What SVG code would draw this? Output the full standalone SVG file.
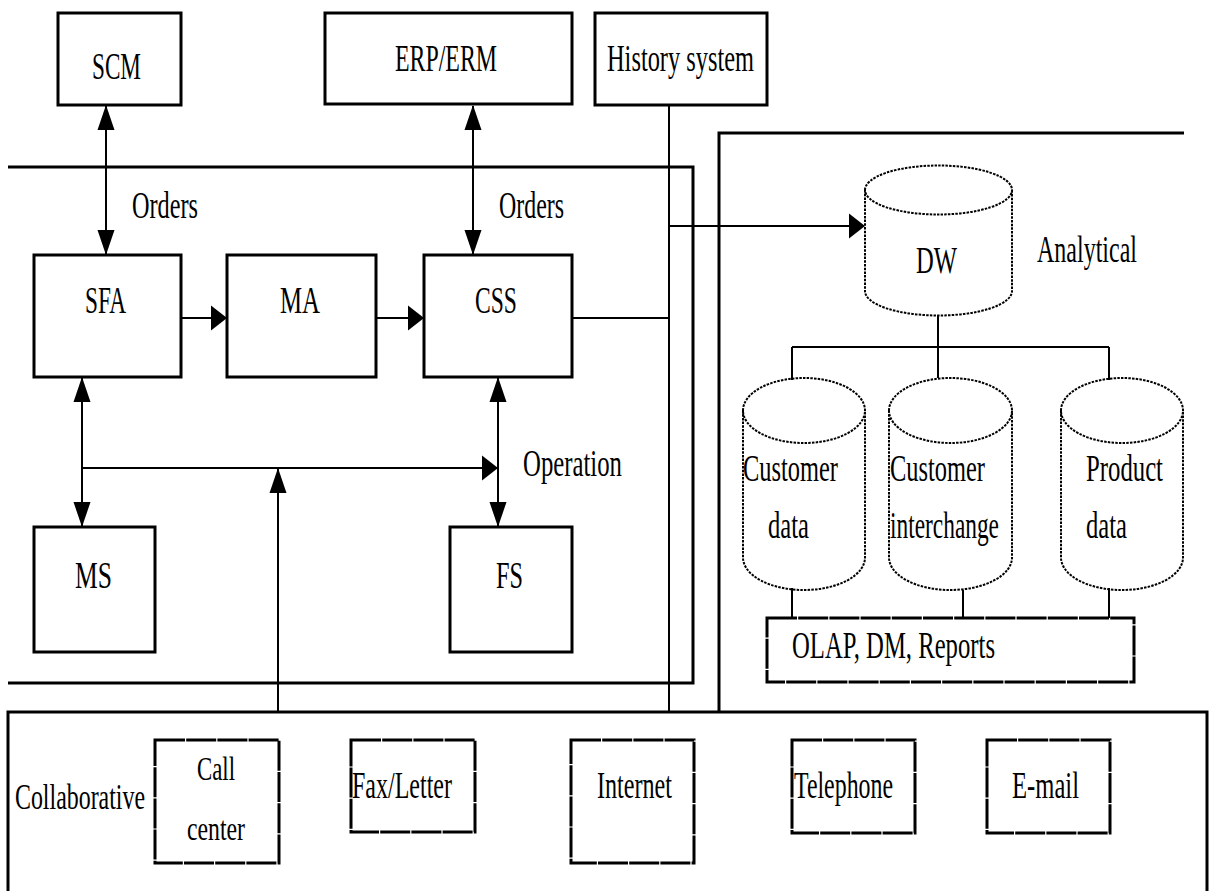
<svg xmlns="http://www.w3.org/2000/svg" width="1213" height="891" viewBox="0 0 1213 891">
<style>
text{font-family:"Liberation Serif","Times New Roman",serif;font-size:37px;fill:#000}
.sm{font-size:34px}
.box{fill:#fff;stroke:#000;stroke-width:3}
.dbox{fill:#fff;stroke:#000;stroke-width:3;stroke-dasharray:30 1.2}
.cyl{fill:none;stroke:#000;stroke-width:2;stroke-dasharray:2.5 1.2}
.reg{fill:none;stroke:#000;stroke-width:3}
.ln{fill:none;stroke:#000;stroke-width:2}
.h{marker-end:url(#ah)}
.v{marker-end:url(#av)}
.vv{marker-start:url(#av);marker-end:url(#av)}
</style>
<defs>
<marker id="ah" markerUnits="userSpaceOnUse" markerWidth="16" markerHeight="26" refX="15" refY="13" orient="auto-start-reverse"><path d="M0,0.5 L16,13 L0,25.5 z" fill="#000"/></marker>
<marker id="av" markerUnits="userSpaceOnUse" markerWidth="25" markerHeight="18" refX="24" refY="9" orient="auto-start-reverse"><path d="M0,0.5 L25,9 L0,17.5 z" fill="#000"/></marker>
</defs>
<rect width="1213" height="891" fill="#fff"/>
<g id="regions">
<path class="reg" d="M8 167 H693 V683 H8"/>
<path class="reg" d="M1184 133 H719 V712"/>
<path class="reg" d="M8 891 V712 H1207 V891"/>
</g>
<g id="connectors">
<line class="ln vv" x1="106" y1="106" x2="106" y2="254"/>
<line class="ln vv" x1="473" y1="106" x2="473" y2="254"/>
<line class="ln" x1="669" y1="105" x2="669" y2="712"/>
<line class="ln h" x1="669" y1="226" x2="864" y2="226"/>
<line class="ln h" x1="181" y1="318" x2="226" y2="318"/>
<line class="ln h" x1="376" y1="318" x2="423" y2="318"/>
<line class="ln" x1="572" y1="318" x2="669" y2="318"/>
<line class="ln vv" x1="82" y1="378" x2="82" y2="526"/>
<line class="ln vv" x1="498" y1="378" x2="498" y2="526"/>
<line class="ln h" x1="82" y1="468" x2="497" y2="468"/>
<line class="ln v" x1="278" y1="712" x2="278" y2="469"/>
<path class="ln" d="M938 315 V347 M792 347 H1109 M792 347 V380 M938 347 V378 M1109 347 V380"/>
<path class="ln" d="M792 588 V618 M963 590 V618 M1109 588 V618"/>
</g>
<g id="scm"><rect class="box" x="58" y="13" width="123" height="92"/><text x="92" y="79" textLength="49" lengthAdjust="spacingAndGlyphs">SCM</text></g>
<g id="erp"><rect class="box" x="325" y="13" width="247" height="91"/><text x="395" y="71" textLength="102" lengthAdjust="spacingAndGlyphs">ERP/ERM</text></g>
<g id="history"><rect class="box" x="595" y="13" width="172" height="92"/><text x="607" y="71" textLength="147" lengthAdjust="spacingAndGlyphs">History system</text></g>
<g id="orders1"><text x="132" y="218" textLength="66" lengthAdjust="spacingAndGlyphs">Orders</text></g>
<g id="orders2"><text x="499" y="218" textLength="65" lengthAdjust="spacingAndGlyphs">Orders</text></g>
<g id="sfa"><rect class="box" x="34" y="255" width="147" height="122"/><text x="85" y="313" textLength="41" lengthAdjust="spacingAndGlyphs">SFA</text></g>
<g id="ma"><rect class="box" x="227" y="255" width="149" height="122"/><text x="280" y="313" textLength="40" lengthAdjust="spacingAndGlyphs">MA</text></g>
<g id="css"><rect class="box" x="424" y="255" width="148" height="122"/><text x="475" y="313" textLength="42" lengthAdjust="spacingAndGlyphs">CSS</text></g>
<g id="operation"><text x="523" y="476" textLength="99" lengthAdjust="spacingAndGlyphs">Operation</text></g>
<g id="ms"><rect class="box" x="34" y="527" width="121" height="125"/><text x="75" y="588" textLength="37" lengthAdjust="spacingAndGlyphs">MS</text></g>
<g id="fs"><rect class="box" x="450" y="527" width="122" height="125"/><text x="496" y="588" textLength="27" lengthAdjust="spacingAndGlyphs">FS</text></g>
<g id="dw"><path class="cyl" d="M865 190 A73.5 24.5 0 0 1 1012 190 A73.5 24.5 0 0 1 865 190 M865 190 V291 A73.5 24.5 0 0 0 1012 291 V190"/><text x="916" y="273" textLength="41" lengthAdjust="spacingAndGlyphs">DW</text></g>
<g id="analytical"><text x="1037" y="262" textLength="100" lengthAdjust="spacingAndGlyphs">Analytical</text></g>
<g id="customer-data"><path class="cyl" d="M743 410.5 A61 32.5 0 0 1 865 410.5 A61 32.5 0 0 1 743 410.5 M743 410.5 V557.5 A61 32.5 0 0 0 865 557.5 V410.5"/><text x="743" y="481" textLength="95" lengthAdjust="spacingAndGlyphs">Customer</text><text x="768" y="538" textLength="41" lengthAdjust="spacingAndGlyphs">data</text></g>
<g id="customer-interchange"><path class="cyl" d="M889 410.5 A61.5 32.5 0 0 1 1012 410.5 A61.5 32.5 0 0 1 889 410.5 M889 410.5 V557.5 A61.5 32.5 0 0 0 1012 557.5 V410.5"/><text x="890" y="481" textLength="95" lengthAdjust="spacingAndGlyphs">Customer</text><text x="890" y="538" textLength="109" lengthAdjust="spacingAndGlyphs">interchange</text></g>
<g id="product-data"><path class="cyl" d="M1061 410.5 A61 32.5 0 0 1 1183 410.5 A61 32.5 0 0 1 1061 410.5 M1061 410.5 V557.5 A61 32.5 0 0 0 1183 557.5 V410.5"/><text x="1086" y="481" textLength="77" lengthAdjust="spacingAndGlyphs">Product</text><text x="1086" y="538" textLength="41" lengthAdjust="spacingAndGlyphs">data</text></g>
<g id="olap"><rect class="dbox" x="767" y="618" width="367" height="64"/><text x="792" y="658" textLength="203" lengthAdjust="spacingAndGlyphs">OLAP, DM, Reports</text></g>
<g id="collaborative"><text transform="translate(15,809) scale(1,1.5)" style="font-size:24px" x="0" y="0" textLength="130" lengthAdjust="spacingAndGlyphs">Collaborative</text></g>
<g id="call-center"><rect class="dbox" x="155" y="740" width="124" height="123"/><text class="sm" x="197" y="780" textLength="38" lengthAdjust="spacingAndGlyphs">Call</text><text class="sm" x="187" y="840" textLength="58" lengthAdjust="spacingAndGlyphs">center</text></g>
<g id="fax"><rect class="dbox" x="351" y="740" width="124" height="92"/><text x="352" y="798" textLength="100" lengthAdjust="spacingAndGlyphs">Fax/Letter</text></g>
<g id="internet"><rect class="dbox" x="571" y="740" width="123" height="123"/><text x="597" y="798" textLength="75" lengthAdjust="spacingAndGlyphs">Internet</text></g>
<g id="telephone"><rect class="dbox" x="792" y="740" width="123" height="93"/><text x="794" y="798" textLength="99" lengthAdjust="spacingAndGlyphs">Telephone</text></g>
<g id="email"><rect class="dbox" x="987" y="740" width="123" height="93"/><text x="1012" y="798" textLength="67" lengthAdjust="spacingAndGlyphs">E-mail</text></g>
</svg>
